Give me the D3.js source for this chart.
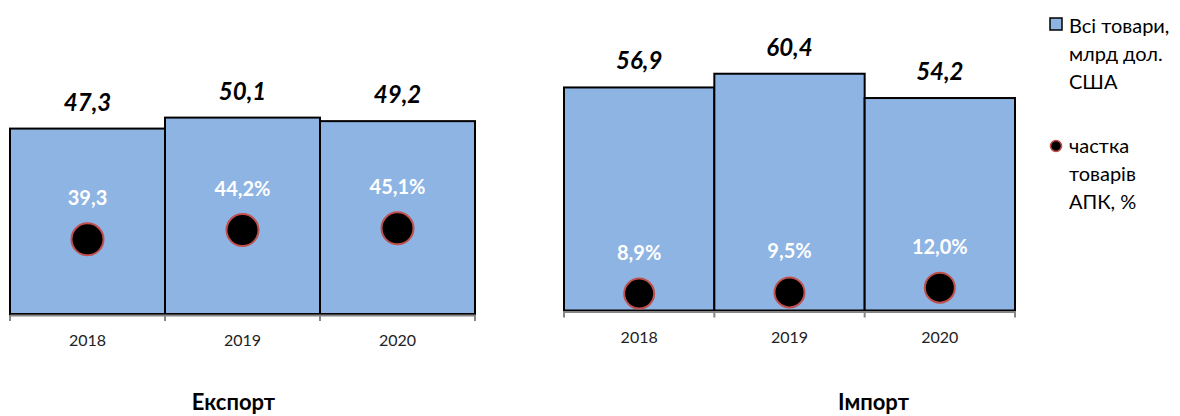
<!DOCTYPE html>
<html>
<head>
<meta charset="utf-8">
<script src="https://cdn.jsdelivr.net/npm/d3@7"></script>
<style>
  html, body { margin: 0; padding: 0; background: #fff; }
  svg { display: block; font-family: Lato, "Open Sans", sans-serif; }
</style>
</head>
<body>
<svg id="chart" width="1180" height="416"></svg>
<script>
// ---- data ----
const years = ["2018", "2019", "2020"];
const exportTotal = [47.3, 50.1, 49.2];
const exportShare = [39.3, 44.2, 45.1];
const exportShareLabels = ["39,3", "44,2%", "45,1%"];
const importTotal = [56.9, 60.4, 54.2];
const importShare = [8.9, 9.5, 12.0];
const importShareLabels = ["8,9%", "9,5%", "12,0%"];
const panelTitles = ["Експорт", "Імпорт"];
const legendBars = ["Всі товари,", "млрд дол.", "США"];
const legendDots = ["частка", "товарів", "АПК, %"];

const fmt = v => d3.format(".1f")(v).replace(".", ",");

const svg = d3.select("#chart");

const panels = [
  { x0: 10, x1: 475, base: 314, total: exportTotal, share: exportShare, shareLabels: exportShareLabels, title: panelTitles[0], titleX: 233.5, r: 16 },
  { x0: 564, x1: 1015, base: 310.5, total: importTotal, share: importShare, shareLabels: importShareLabels, title: panelTitles[1], titleX: 873.5, r: 15 }
];

panels.forEach(p => {
  const g = svg.append("g");
  const x = d3.scaleBand().domain(years).range([p.x0, p.x1]).paddingInner(0).paddingOuter(0);
  const y = d3.scaleLinear().domain([0, 80]).range([p.base, p.base - 80 * 3.92]);
  const y2 = d3.scaleLinear().domain([0, 160]).range([p.base, p.base - 160 * 1.9]);

  // bars
  g.selectAll("rect.bar").data(p.total).join("rect")
    .attr("class", "bar")
    .attr("x", (d, i) => x(years[i]))
    .attr("y", d => y(d))
    .attr("width", x.bandwidth())
    .attr("height", d => y(0) - y(d))
    .attr("fill", "#8EB4E3")
    .attr("stroke", "#000")
    .attr("stroke-width", 2);

  // axis
  const axis = d3.axisBottom(x).tickSize(6).tickSizeOuter(0).tickFormat(d => d);
  const ax = g.append("g").attr("transform", `translate(0,${p.base + 1})`).call(axis);
  ax.select(".domain").attr("stroke", "#868686").attr("stroke-width", 2);
  ax.selectAll(".tick line").remove();
  const bounds = [p.x0, ...years.slice(1).map(d => x(d)), p.x1];
  g.selectAll("line.bt").data(bounds).join("line")
    .attr("class", "bt")
    .attr("x1", d => d).attr("x2", d => d)
    .attr("y1", p.base + 1).attr("y2", p.base + 7)
    .attr("stroke", "#868686").attr("stroke-width", 2);
  ax.selectAll(".tick text")
    .attr("dy", 0).attr("y", 31)
    .attr("font-size", 16).attr("fill", "#222")
    .attr("font-family", "Lato, sans-serif");

  // total labels
  g.selectAll("text.tot").data(p.total).join("text")
    .attr("class", "tot")
    .attr("x", (d, i) => x(years[i]) + x.bandwidth() / 2)
    .attr("y", d => y(d) - 18)
    .attr("text-anchor", "middle")
    .attr("font-size", 24).attr("font-weight", "bold").attr("font-style", "italic")
    .attr("fill", "#000")
    .text(d => fmt(d));

  // dots
  g.selectAll("circle.dot").data(p.share).join("circle")
    .attr("class", "dot")
    .attr("cx", (d, i) => x(years[i]) + x.bandwidth() / 2)
    .attr("cy", d => y2(d))
    .attr("r", p.r)
    .attr("fill", "#000")
    .attr("stroke", "#C0504D")
    .attr("stroke-width", 2);

  // share labels
  g.selectAll("text.sh").data(p.share).join("text")
    .attr("class", "sh")
    .attr("x", (d, i) => x(years[i]) + x.bandwidth() / 2)
    .attr("y", d => y2(d) - 41 + 7)
    .attr("text-anchor", "middle")
    .attr("font-size", 20).attr("font-weight", "bold")
    .attr("fill", "#fff")
    .text((d, i) => p.shareLabels[i]);

  // panel title
  g.append("text")
    .attr("x", p.titleX)
    .attr("y", 410)
    .attr("text-anchor", "middle")
    .attr("font-size", 22).attr("font-weight", "bold")
    .attr("fill", "#000")
    .text(p.title);
});

// legend
const lg = svg.append("g");
lg.append("rect").attr("x", 1050).attr("y", 18).attr("width", 12).attr("height", 12)
  .attr("fill", "#8EB4E3").attr("stroke", "#000").attr("stroke-width", 1.5);
lg.selectAll("text.l1").data(legendBars).join("text")
  .attr("class", "l1")
  .attr("x", 1069).attr("y", (d, i) => 33 + i * 28)
  .attr("font-size", 20).attr("fill", "#000")
  .text(d => d);
lg.append("circle").attr("cx", 1056).attr("cy", 146).attr("r", 5.5)
  .attr("fill", "#000").attr("stroke", "#C0504D").attr("stroke-width", 1.5);
lg.selectAll("text.l2").data(legendDots).join("text")
  .attr("class", "l2")
  .attr("x", 1069).attr("y", (d, i) => 153 + i * 28)
  .attr("font-size", 20).attr("fill", "#000")
  .text(d => d);
</script>
</body>
</html>
